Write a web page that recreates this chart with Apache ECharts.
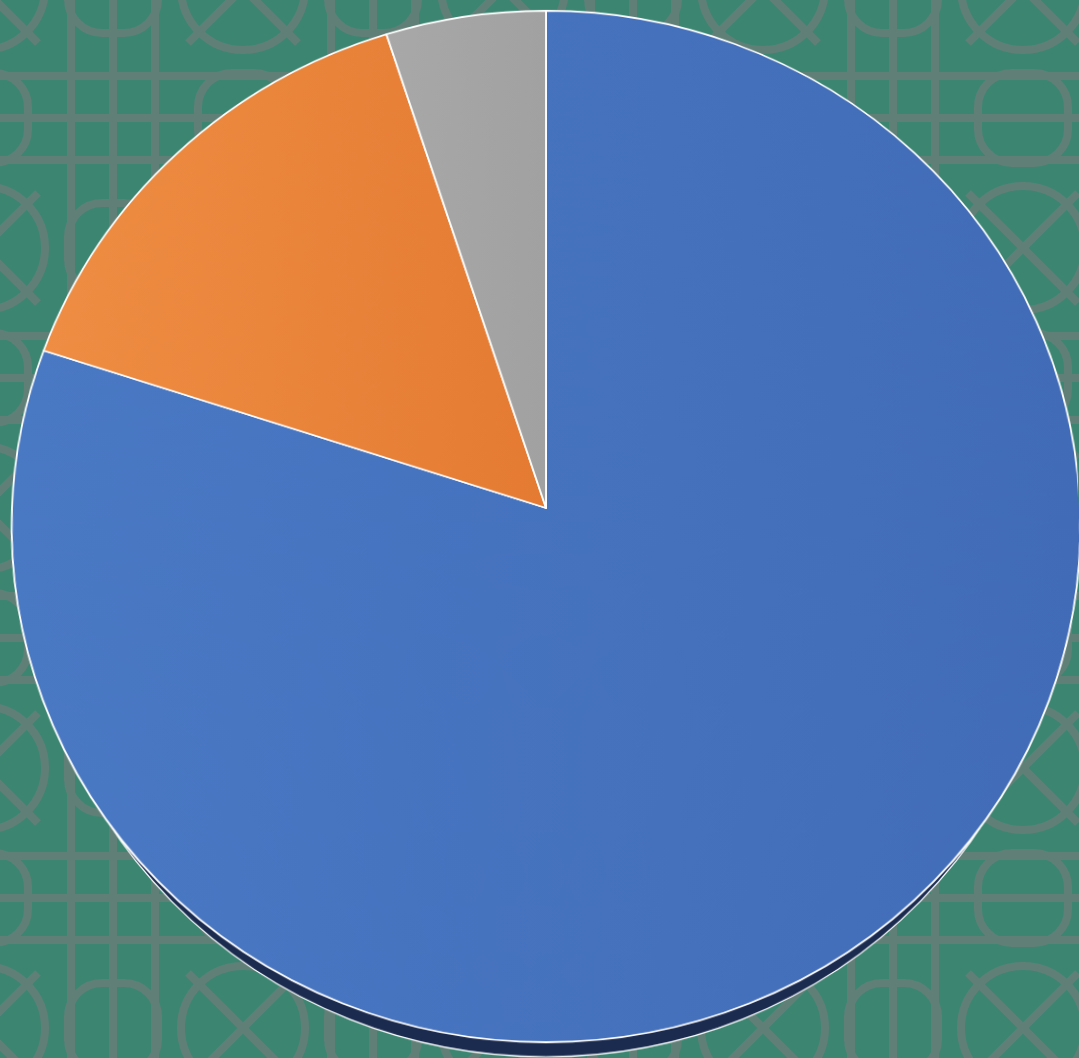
<!DOCTYPE html>
<html>
<head>
<meta charset="utf-8">
<script src="https://cdn.jsdelivr.net/npm/echarts@6/dist/echarts.min.js"></script>
<style>
html,body{margin:0;padding:0;width:1079px;height:1058px;overflow:hidden;}
body{
  background-color:#3b8571;
  background-image:url("data:image/svg+xml;utf8,<svg xmlns='http://www.w3.org/2000/svg' width='260' height='260'><g fill='none' stroke='%235f7f77' stroke-width='8'><path d='M0 88H260M0 130H260M0 172H260M88 0V260M130 0V260M172 0V260'/><path d='M0 0L55 55M260 0L205 55M0 260L55 205M260 260L205 205'/><circle cx='0' cy='0' r='62'/><circle cx='260' cy='0' r='62'/><circle cx='0' cy='260' r='62'/><circle cx='260' cy='260' r='62'/><rect x='-45' y='85' width='90' height='90' rx='34'/><rect x='215' y='85' width='90' height='90' rx='34'/><rect x='85' y='-45' width='90' height='90' rx='34'/><rect x='85' y='215' width='90' height='90' rx='34'/></g></svg>");
  background-position:-17px -12px;
}
#chart{position:absolute;left:0;top:-60px;width:1079px;height:1200px;
  transform-origin:546px 568px;
  transform:perspective(3928px) rotateX(15.3deg);}
</style>
</head>
<body>
<div id="chart"></div>
<script>
// Data
const categories = ['Category A', 'Category B', 'Category C'];
const values = [80, 15, 5];
const sliceColors = [
  ['#4a79c4', '#416bb7'],
  ['#ee8d43', '#e57b33'],
  ['#a8a8a8', '#a1a1a1']
];

const chart = echarts.init(document.getElementById('chart'), null, {renderer: 'canvas'});
const cx = 546, cy = 568, R = 534;

const mainData = categories.map((name, i) => ({
  name: name,
  value: values[i],
  itemStyle: {
    color: new echarts.graphic.LinearGradient(0, 0, 1, 0, [
      {offset: 0, color: sliceColors[i][0]},
      {offset: 1, color: sliceColors[i][1]}
    ])
  }
}));

const total = values.reduce((a, b) => a + b, 0);

chart.setOption({
  backgroundColor: 'transparent',
  animation: false,
  series: [
    {
      type: 'pie',
      z: 1,
      silent: true,
      center: [cx, cy + 33],
      radius: [0, R - 19],
      startAngle: 90,
      label: {show: false},
      labelLine: {show: false},
      itemStyle: {color: '#1b2b50', borderColor: '#ffffff', borderWidth: 1.2},
      data: [{name: 'depth', value: total}]
    },
    {
      type: 'pie',
      z: 2,
      center: [cx, cy],
      radius: [0, R],
      startAngle: 90,
      clockwise: true,
      label: {show: false},
      labelLine: {show: false},
      itemStyle: {borderColor: '#ffffff', borderWidth: 1.8},
      emphasis: {disabled: true},
      data: mainData
    }
  ]
});
</script>
</body>
</html>
